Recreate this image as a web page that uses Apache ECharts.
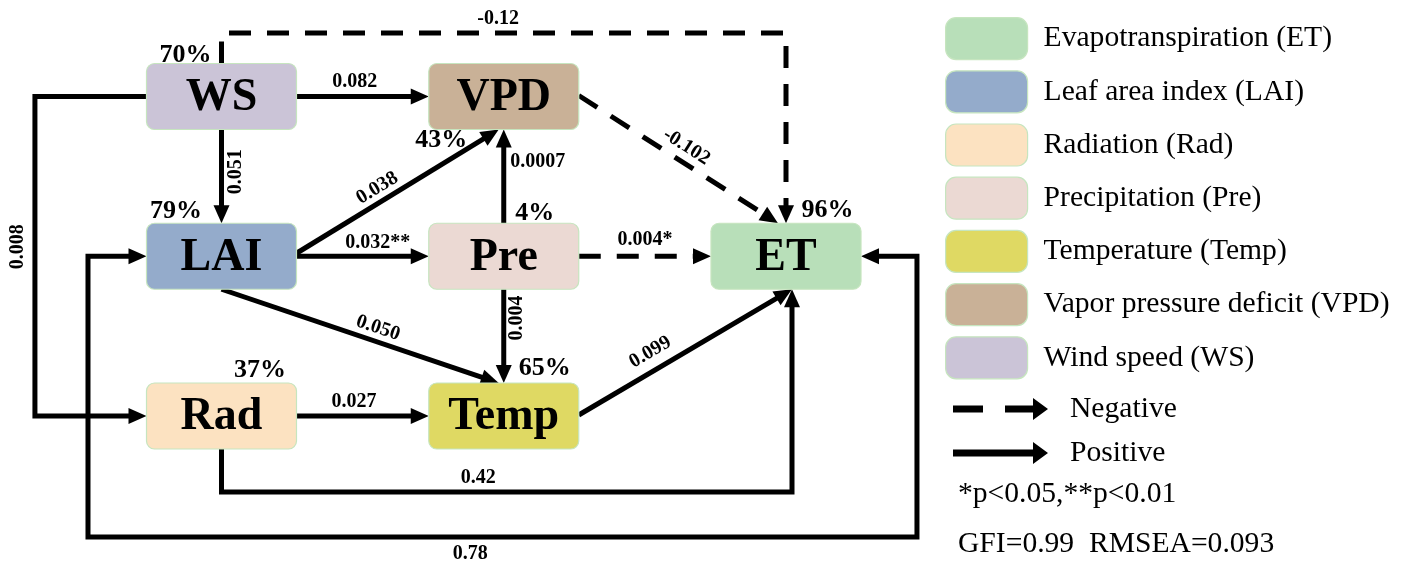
<!DOCTYPE html>
<html><head><meta charset="utf-8">
<script src="https://cdn.jsdelivr.net/npm/echarts@6/dist/echarts.min.js"></script>
<style>html,body{margin:0;padding:0;background:#fff}#c{width:1406px;height:565px}</style>
</head><body><div id="c"></div>
<script>
// ---------------- data ----------------
const nodeNames = ['WS', 'VPD', 'LAI', 'Pre', 'ET', 'Rad', 'Temp'];
const nodeR2    = ['70%', '43%', '79%', '4%', '96%', '37%', '65%'];
const legendNames = ['Evapotranspiration (ET)', 'Leaf area index (LAI)', 'Radiation (Rad)',
  'Precipitation (Pre)', 'Temperature (Temp)', 'Vapor pressure deficit (VPD)', 'Wind speed (WS)'];
const legendNodes = ['ET', 'LAI', 'Rad', 'Pre', 'Temp', 'VPD', 'WS'];
const edgeFrom = ['WS', 'WS', 'WS', 'WS', 'VPD', 'LAI', 'LAI', 'LAI', 'Pre', 'Pre', 'Pre', 'Rad', 'Rad', 'Temp', 'LAI'];
const edgeTo   = ['VPD', 'LAI', 'ET', 'Rad', 'ET', 'VPD', 'Pre', 'Temp', 'VPD', 'ET', 'Temp', 'Temp', 'ET', 'ET', 'ET'];
const edgeCoef = ['0.082', '0.051', '-0.12', '0.008', '-0.102', '0.038', '0.032**', '0.050', '0.0007', '0.004*', '0.004', '0.027', '0.42', '0.099', '0.78'];
const edgeSign = ['pos', 'pos', 'neg', 'pos', 'neg', 'pos', 'pos', 'pos', 'pos', 'neg', 'pos', 'pos', 'pos', 'pos', 'pos'];
const arrowTypes = ['Negative', 'Positive'];
const noteLines = ['*p<0.05,**p<0.01', 'GFI=0.99  RMSEA=0.093'];

// ---------------- layout / style ----------------
const FONT = '"Liberation Serif","Times New Roman",serif';
const nodeCol = [0, 1, 0, 1, 2, 0, 1];
const nodeRow = [0, 0, 1, 1, 1, 2, 2];
const nodeColor = ['#cbc4d7', '#c9b197', '#94abcb', '#ebd9d3', '#b8dfb9', '#fce2c1', '#dfd963'];
const r2Offset = [[-36, -41.5], [-62.5, 43.5], [-45.5, -44.5], [31, -42.5], [41.5, -46], [38.5, -45.5], [41, -48]];
const HW = 75, HH = 33, LW = 5, AL = 18, AW = 16;
const edgeRoute = [
  {s: ['R', 0], e: ['L', 0]},
  {s: ['B', 0], e: ['T', 0]},
  {s: ['T', 0], e: ['T', 0], via: [['s', -0.3975], ['e', -0.3975]]},
  {s: ['L', 0], e: ['L', 0], via: [[-0.661, 's'], [-0.661, 'e']]},
  {s: ['R', -1], e: ['T', -8]},
  {s: ['R', -3], e: ['B', -5]},
  {s: ['R', 0], e: ['L', 0]},
  {s: ['B', 0], e: ['T', -5]},
  {s: ['T', 0], e: ['B', 0]},
  {s: ['R', 0], e: ['L', 0]},
  {s: ['B', 0], e: ['T', 0]},
  {s: ['R', 0], e: ['L', 0]},
  {s: ['B', 0], e: ['B', 6], via: [['s', 2.476], ['e', 2.476]]},
  {s: ['R', -1], e: ['B', 6]},
  {s: ['L', 0], e: ['R', 0], via: [[-0.473, 's'], [-0.473, 2.757], [2.464, 2.757], [2.464, 'e']], both: true}
];
const edgeLabelPos = [
  {seg: 0, t: 0.44, d: 14.5, rot: 'h'},
  {seg: 0, t: 0.45, d: 14.5, rot: 'v'},
  {seg: 1, t: 0.49, d: 14, rot: 'h'},
  {seg: 1, t: 0.47, d: -17, rot: 'v'},
  {seg: 0, t: 0.5, d: 15, rot: 'a'},
  {seg: 0, t: 0.434, d: 13.4, rot: 'a'},
  {seg: 0, t: 0.615, d: 13, rot: 'h'},
  {seg: 0, t: 0.549, d: 13.4, rot: 'a'},
  {seg: 0, t: 0.653, d: -34, rot: 'h'},
  {seg: 0, t: 0.5, d: 16, rot: 'h'},
  {seg: 0, t: 0.307, d: 13, rot: 'v'},
  {seg: 0, t: 0.435, d: 14, rot: 'h'},
  {seg: 1, t: 0.45, d: 14, rot: 'h'},
  {seg: 0, t: 0.378, d: 17.9, rot: 'a'},
  {seg: 2, t: 0.461, d: -17, rot: 'h'}
];
const NEG_ICON = 'path://M0,7.5H30V14.5H0Z M52,7.5H80V0L95,11L80,22V14.5H52Z';
const POS_ICON = 'path://M0,7.5H80V0L95,11L80,22V14.5H0Z';

const nodeIndex = {};
nodeNames.forEach((n, i) => { nodeIndex[n] = i; });

function nodeCenter(api, name) {
  const i = nodeIndex[name];
  return api.coord([nodeCol[i], nodeRow[i]]);
}
function anchor(api, name, spec) {
  const c = nodeCenter(api, name), side = spec[0], off = spec[1];
  if (side === 'L') return [c[0] - HW, c[1] + off];
  if (side === 'R') return [c[0] + HW, c[1] + off];
  if (side === 'T') return [c[0] + off, c[1] - HH];
  return [c[0] + off, c[1] + HH];
}
function arrowHead(tip, ux, uy) {
  const bx = tip[0] - ux * AL, by = tip[1] - uy * AL;
  const nx = -uy, ny = ux;
  return {type: 'polygon', shape: {points: [tip, [bx + nx * AW / 2, by + ny * AW / 2], [bx - nx * AW / 2, by - ny * AW / 2]]},
    style: {fill: '#000', stroke: null}};
}

function renderEdge(params, api) {
  const i = api.value(2);
  const r = edgeRoute[i];
  const s = anchor(api, edgeFrom[i], r.s), e = anchor(api, edgeTo[i], r.e);
  const pts = [s];
  (r.via || []).forEach(v => {
    const x = v[0] === 's' ? s[0] : v[0] === 'e' ? e[0] : api.coord([v[0], 0])[0];
    const y = v[1] === 's' ? s[1] : v[1] === 'e' ? e[1] : api.coord([0, v[1]])[1];
    pts.push([x, y]);
  });
  pts.push(e);
  const children = [];
  const linePts = pts.map(p => p.slice());
  function tipAt(idxEnd, idxPrev) {
    const a = pts[idxPrev], b = pts[idxEnd];
    const dx = b[0] - a[0], dy = b[1] - a[1], L = Math.hypot(dx, dy);
    linePts[idxEnd] = [b[0] - dx / L * (AL - 2), b[1] - dy / L * (AL - 2)];
    children.push(arrowHead(b, dx / L, dy / L));
  }
  tipAt(pts.length - 1, pts.length - 2);
  if (r.both) tipAt(0, 1);
  const dashed = edgeSign[i] === 'neg';
  children.unshift({type: 'polyline', shape: {points: linePts},
    style: {stroke: '#000', lineWidth: LW, fill: null, lineDash: dashed ? [22, 16] : null, lineJoin: 'miter', lineCap: 'butt'}});
  const lp = edgeLabelPos[i];
  const a = pts[lp.seg], b = pts[lp.seg + 1];
  const dx = b[0] - a[0], dy = b[1] - a[1], L = Math.hypot(dx, dy);
  const ux = dx / L, uy = dy / L, nx = uy, ny = -ux;
  const px = a[0] + dx * lp.t + nx * lp.d, py = a[1] + dy * lp.t + ny * lp.d;
  let rot = 0;
  if (lp.rot === 'v') rot = Math.PI / 2;
  else if (lp.rot === 'a') {
    let th = Math.atan2(dy, dx);
    if (th > Math.PI / 2) th -= Math.PI;
    if (th < -Math.PI / 2) th += Math.PI;
    rot = -th;
  }
  children.push({type: 'text', x: px, y: py, rotation: rot,
    style: {text: edgeCoef[i], fill: '#000', font: 'bold 20px ' + FONT, align: 'center', verticalAlign: 'middle'}});
  return {type: 'group', children};
}

function renderNode(params, api) {
  const i = api.value(2);
  const c = api.coord([api.value(0), api.value(1)]);
  const o = r2Offset[i];
  return {type: 'group', children: [
    {type: 'rect', shape: {x: c[0] - HW, y: c[1] - HH, width: 2 * HW, height: 2 * HH, r: 8},
      style: {fill: nodeColor[i], stroke: '#c6e5bf', lineWidth: 1.2}},
    {type: 'text', x: c[0], y: c[1] + 1.5,
      style: {text: nodeNames[i], font: 'bold 46px ' + FONT, fill: '#000', align: 'center', verticalAlign: 'middle'}},
    {type: 'text', x: c[0] + o[0], y: c[1] + o[1],
      style: {text: nodeR2[i], font: 'bold 26px ' + FONT, fill: '#000', align: 'center', verticalAlign: 'middle'}}
  ]};
}

const chart = echarts.init(document.getElementById('c'));
const series = [
  {type: 'custom', name: 'edges', coordinateSystem: 'cartesian2d', clip: false, z: 2,
    data: edgeFrom.map((f, i) => [nodeCol[nodeIndex[f]], nodeRow[nodeIndex[f]], i]),
    encode: {x: 0, y: 1}, renderItem: renderEdge, silent: true},
  {type: 'custom', name: 'nodes', coordinateSystem: 'cartesian2d', clip: false, z: 3,
    data: nodeNames.map((n, i) => [nodeCol[i], nodeRow[i], i]),
    encode: {x: 0, y: 1}, renderItem: renderNode, silent: true}
];
legendNodes.forEach((n, k) => {
  series.push({type: 'scatter', name: legendNames[k], data: [],
    itemStyle: {color: nodeColor[nodeIndex[n]], borderColor: '#c6e5bf', borderWidth: 1.2, opacity: 1}});
});
arrowTypes.forEach(n => series.push({type: 'scatter', name: n, data: [], itemStyle: {color: '#000', opacity: 1}}));

const LEG_FS = 29.6;
chart.setOption({
  animation: false,
  backgroundColor: '#fff',
  grid: {left: 221.5, top: 96.5, width: 564.5, height: 319.5, containLabel: false},
  xAxis: {type: 'value', min: 0, max: 2, show: false},
  yAxis: {type: 'value', min: 0, max: 2, inverse: true, show: false},
  legend: [
    {data: legendNames.map((n, k) => ({name: n, itemStyle: {color: nodeColor[nodeIndex[legendNodes[k]]], borderColor: '#c6e5bf', borderWidth: 1.2, opacity: 1}})),
      orient: 'vertical', left: 945, top: 17, itemWidth: 82, itemHeight: 42, itemGap: 10,
      icon: 'roundRect', selectedMode: false, padding: 0,
      textStyle: {fontSize: LEG_FS, fontFamily: FONT, color: '#000', padding: [0, 0, 0, 11]}},
    {data: [{name: arrowTypes[0], icon: NEG_ICON, itemStyle: {color: '#000', opacity: 1}},
            {name: arrowTypes[1], icon: POS_ICON, itemStyle: {color: '#000', opacity: 1}}],
      orient: 'vertical', left: 953, top: 394, itemWidth: 95, itemHeight: 22, itemGap: 14,
      selectedMode: false, padding: 0,
      textStyle: {fontSize: LEG_FS, fontFamily: FONT, color: '#000', padding: [0, 0, 0, 17]}}
  ],
  graphic: noteLines.map((t, k) => ({type: 'text', x: 958, y: 494 + k * 50,
    style: {text: t, font: LEG_FS + 'px ' + FONT, fill: '#000', verticalAlign: 'middle'}})),
  series
});
</script></body></html>
